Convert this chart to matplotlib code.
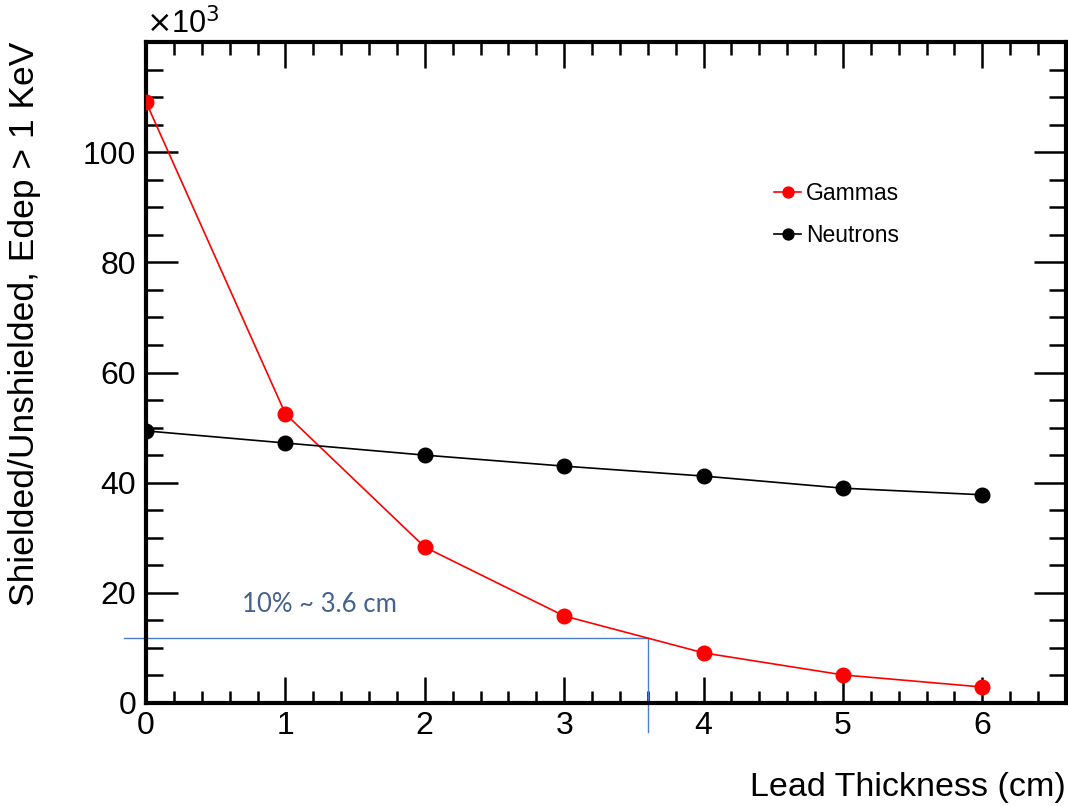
import matplotlib
matplotlib.use("Agg")
import matplotlib.pyplot as plt
from matplotlib.ticker import MultipleLocator

plt.rcParams['font.family'] = ['Liberation Sans', 'DejaVu Sans']

thickness = [0, 1, 2, 3, 4, 5, 6]
gammas = [109.1, 52.5, 28.3, 15.8, 9.1, 5.1, 2.9]
neutrons = [49.4, 47.2, 45.0, 43.0, 41.2, 39.0, 37.8]
x_ticks = [0, 1, 2, 3, 4, 5, 6]
y_ticks = [0, 20, 40, 60, 80, 100]
cut_level = 11.8
cut_thickness = 3.6
cut_text = "10% ~ 3.6 cm"

fig = plt.figure(figsize=(10.68, 8.06), dpi=100)
ax = fig.add_axes([146/1068, 1-703/806, (1066-146)/1068, (703-42)/806])

ax.plot(thickness, gammas, color='red', lw=1.2, marker='o', ms=10.5,
        mec='red', mfc='red', label='Gammas', zorder=3)
ax.plot(thickness, neutrons, color='black', lw=1.2, marker='o', ms=10.5,
        mec='black', mfc='black', label='Neutrons', zorder=3)

# annotation lines
blue = '#4a7ec8'
ax.plot([-0.16, cut_thickness], [cut_level, cut_level], color=blue, lw=1.0,
        clip_on=False, zorder=2)
ax.plot([cut_thickness, cut_thickness], [cut_level, -5.2], color=blue, lw=1.0,
        clip_on=False, zorder=2)
ax.text(0.69, 17.8, cut_text, color='#44628f', fontsize=18.5,
        family=['Lato', 'DejaVu Sans'], va='center', ha='left')

ax.set_xlim(0, 6.6)
ax.set_ylim(0, 120)
ax.set_xticks(x_ticks)
ax.set_yticks(y_ticks)
ax.xaxis.set_minor_locator(MultipleLocator(0.2))
ax.yaxis.set_minor_locator(MultipleLocator(5))
ax.tick_params(which='both', direction='in', top=True, right=True,
               width=1.8, labelsize=23, colors='black')
ax.tick_params(axis='x', which='major', length=19, pad=6)
ax.tick_params(axis='x', which='minor', length=9)
ax.tick_params(axis='y', which='major', length=23, pad=7)
ax.tick_params(axis='y', which='minor', length=12)
for s in ax.spines.values():
    s.set_linewidth(3)

ax.set_xlabel('Lead Thickness (cm)', fontsize=24.5, loc='right', labelpad=22)
ax.set_ylabel('Shielded/Unshielded, Edep > 1 KeV', fontsize=25.5, loc='top', labelpad=30)

ax.text(0.0, 1.003, r'$\times$10$^{3}$', transform=ax.transAxes,
        fontsize=22, ha='left', va='bottom')

leg = ax.legend(loc='upper left', bbox_to_anchor=(0.66, 0.82), frameon=False,
                fontsize=16.5, handlelength=1.2, handletextpad=0.2,
                labelspacing=0.85, markerscale=0.75)

fig.savefig('out.png', dpi=100)
